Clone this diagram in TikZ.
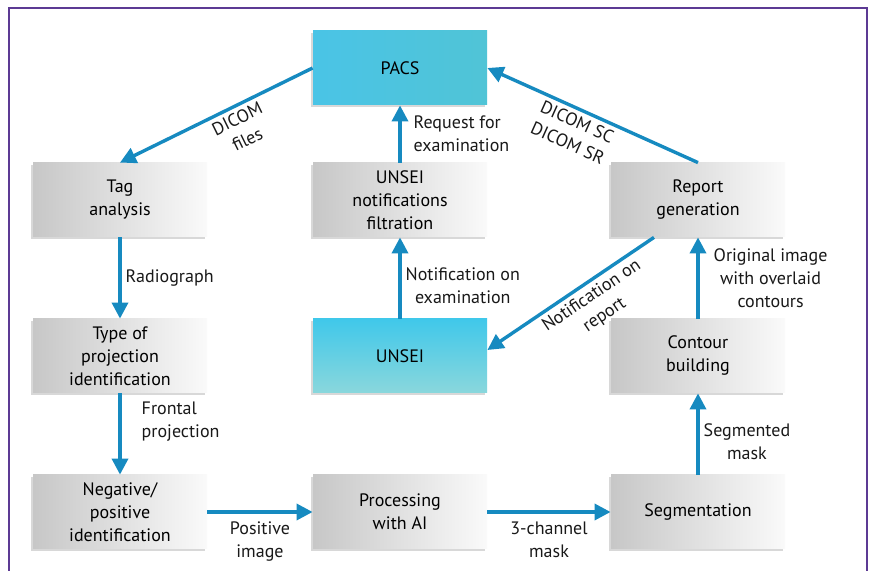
\documentclass[tikz,border=0pt]{standalone}
\usepackage{fontspec}
\setmainfont{PT Sans}
\usetikzlibrary{arrows.meta,shadows}
\definecolor{arrowblue}{RGB}{22,138,192}
\definecolor{framepurple}{RGB}{92,58,148}
\definecolor{pacsleft}{RGB}{74,196,230}
\definecolor{pacsmid}{RGB}{46,194,226}
\definecolor{pacsright}{RGB}{80,196,214}
\definecolor{unseitop}{RGB}{64,200,234}
\definecolor{unseibottom}{RGB}{138,215,220}
\begin{document}
\begin{tikzpicture}[x = 0.5pt, y = -0.5pt, node distance = 78pt,
    font = \fontsize{9}{11.5}\selectfont,
    box/.style = {rectangle, minimum width = 87pt, minimum height = 37pt, align = center,
      drop shadow = {shadow xshift = -1.2pt, shadow yshift = -1.2pt, opacity = 0.3}},
    greybox/.style = {box, left color = black!22, right color = black!2},
    pacsbox/.style = {box, left color = pacsleft, middle color = pacsmid, right color = pacsright},
    unseibox/.style = {box, top color = unseitop, bottom color = unseibottom},
    flow/.style = {draw = arrowblue, line width = 1.7pt, -{Triangle[length = 8pt, width = 8pt]}},
    lbl/.style = {inner sep = 2pt, text = black!90}]
      \useasboundingbox (0,0) rectangle (874,571);
      \fill[white] (0,0) rectangle (874,571);
      \draw[framepurple, line width = 1.4pt] (9,571) |- (867,8) -- (867,571);

      \node[pacsbox] (pacs) at (400,68) {PACS};
      \node[greybox] (filt) [node distance = 66pt, below of = pacs] {UNSEI\\notifications\\filtration};
      \node[greybox] (tag) [node distance = 140pt, left of = filt] {Tag\\analysis};
      \node[greybox] (report) [node distance = 149pt, right of = filt] {Report\\generation};
      \node[unseibox] (unsei) [below of = filt] {UNSEI};
      \node[greybox] (type) [below of = tag] {Type of\\projection\\identification};
      \node[greybox] (contour) [below of = report] {Contour\\building};
      \node[greybox] (neg) [below of = type] {Negative/\\positive\\identification};
      \node[greybox] (proc) [below of = unsei] {Processing\\with AI};
      \node[greybox] (seg) [below of = contour] {Segmentation};

      \path (pacs.west) edge[flow] node[lbl, sloped, below, pos = 0.42, align = center] {DICOM\\files} (tag.north);
      \path (tag) edge[flow] node[lbl, right, align = left] {Radiograph} (type);
      \path (type) edge[flow] node[lbl, right, xshift = 8pt, pos = 0.35, align = left] {Frontal\\projection} (neg);
      \path (neg) edge[flow] node[lbl, below, yshift = -2pt, align = center] {Positive\\image} (proc);
      \path (proc) edge[flow] node[lbl, below, yshift = -2pt, align = center] {3-channel\\mask} (seg);
      \path (seg) edge[flow] node[lbl, right, pos = 0.4, align = center] {Segmented\\mask} (contour);
      \path (contour) edge[flow] node[lbl, right, xshift = 5pt, align = center] {Original image\\with overlaid\\contours} (report);
      \path (report.north) edge[flow] node[lbl, sloped, below, pos = 0.55, align = center] {DICOM SC\\DICOM SR} (pacs.east);
      \path ([xshift = -22pt]report.south) edge[flow] node[lbl, sloped, below, pos = 0.42, align = center] {Notification on\\report} ([yshift = 3pt]unsei.east);
      \path (unsei) edge[flow] node[lbl, right, pos = 0.4, align = center] {Notification on\\examination} (filt);
      \path (filt) edge[flow] node[lbl, right, xshift = 4pt, align = left] {Request for\\examination} (pacs);
    \end{tikzpicture}
\end{document}
